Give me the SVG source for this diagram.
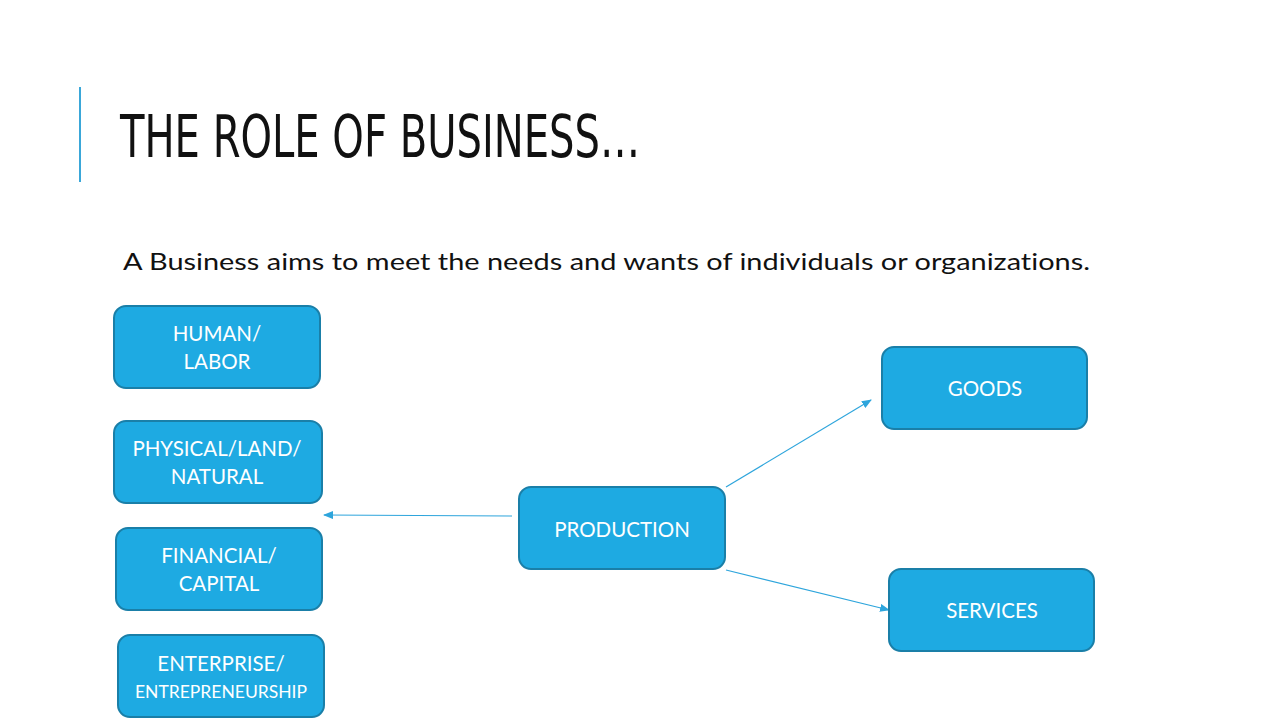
<svg xmlns="http://www.w3.org/2000/svg" width="1280" height="720" viewBox="0 0 1280 720">
<defs>
<style>
.box{fill:#1eaae2;stroke:#1a7fa8;stroke-width:2}
.lbl{font-family:"Lato","Open Sans",sans-serif;fill:#ffffff;font-size:20.5px;text-anchor:middle;font-variant-ligatures:none}
.conn{stroke:#2ea5dc;stroke-width:1.2;fill:none}
</style>
<marker id="ah" markerWidth="10" markerHeight="8" refX="9" refY="4" orient="auto" markerUnits="userSpaceOnUse">
<path d="M0,0 L10,4 L0,8 Z" fill="#2ea5dc"/>
</marker>
</defs>
<rect width="1280" height="720" fill="#ffffff"/>
<rect x="79" y="87" width="2" height="95" fill="#3aa7d9"/>
<text x="120" y="157" font-family="'DejaVu Sans Condensed','Liberation Sans',sans-serif" font-size="59" fill="#111111" textLength="520" lengthAdjust="spacingAndGlyphs">THE ROLE OF BUSINESS…</text>
<text x="123" y="270" font-family="'Lato','Open Sans',sans-serif" font-size="24" fill="#111111" style="font-variant-ligatures:none" textLength="967" lengthAdjust="spacingAndGlyphs">A Business aims to meet the needs and wants of individuals or organizations.</text>
<g id="connectors">
<line class="conn" x1="512" y1="516" x2="324" y2="515" marker-end="url(#ah)"/>
<line class="conn" x1="726" y1="487" x2="871" y2="400" marker-end="url(#ah)"/>
<line class="conn" x1="726" y1="570" x2="889" y2="610" marker-end="url(#ah)"/>
</g>
<g id="human">
<rect class="box" x="114" y="306" width="206" height="82" rx="12"/>
<text class="lbl" x="217" y="341">HUMAN/</text>
<text class="lbl" x="217" y="369">LABOR</text>
</g>
<g id="physical">
<rect class="box" x="114" y="421" width="208" height="82" rx="12"/>
<text class="lbl" x="217" y="456">PHYSICAL/LAND/</text>
<text class="lbl" x="217" y="484">NATURAL</text>
</g>
<g id="financial">
<rect class="box" x="116" y="528" width="206" height="82" rx="12"/>
<text class="lbl" x="219" y="563">FINANCIAL/</text>
<text class="lbl" x="219" y="591">CAPITAL</text>
</g>
<g id="enterprise">
<rect class="box" x="118" y="635" width="206" height="82" rx="12"/>
<text class="lbl" x="221" y="671">ENTERPRISE/</text>
<text class="lbl" x="221" y="698" style="font-size:17.5px">ENTREPRENEURSHIP</text>
</g>
<g id="production">
<rect class="box" x="519" y="487" width="206" height="82" rx="12"/>
<text class="lbl" x="622" y="537">PRODUCTION</text>
</g>
<g id="goods">
<rect class="box" x="882" y="347" width="205" height="82" rx="12"/>
<text class="lbl" x="985" y="396">GOODS</text>
</g>
<g id="services">
<rect class="box" x="889" y="569" width="205" height="82" rx="12"/>
<text class="lbl" x="992" y="618">SERVICES</text>
</g>
</svg>
